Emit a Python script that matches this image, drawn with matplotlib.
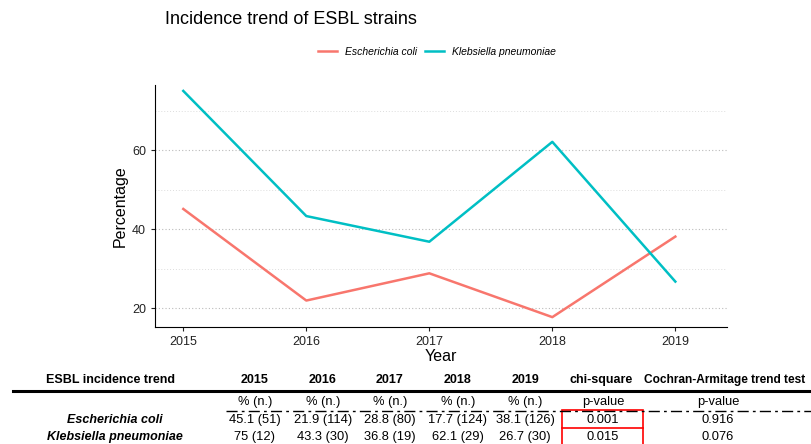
import matplotlib.pyplot as plt
from matplotlib.patches import Rectangle
from matplotlib.lines import Line2D

plt.rcParams['font.family'] = ['Liberation Sans', 'DejaVu Sans']

years = [2015, 2016, 2017, 2018, 2019]
ecoli_pct = [45.1, 21.9, 28.8, 17.7, 38.1]
kpneu_pct = [75, 43.3, 36.8, 62.1, 26.7]
ecoli_n = [51, 114, 80, 124, 126]
kpneu_n = [12, 30, 19, 29, 30]
chi_p = ['0.001', '0.015']
ca_p = ['0.916', '0.076']
species = ['Escherichia coli', 'Klebsiella pneumoniae']

col_ecoli = '#F8766D'
col_kpneu = '#00BFC4'

W, H = 811, 444
fig = plt.figure(figsize=(W / 100, H / 100), dpi=100)

def fx(px):
    return px / W

def fy(py):
    return 1 - py / H

ax = fig.add_axes([fx(155), fy(327), fx(727) - fx(155), fy(85) - fy(327)])
ax.plot(years, ecoli_pct, color=col_ecoli, lw=1.8, label='Escherichia coli')
ax.plot(years, kpneu_pct, color=col_kpneu, lw=1.8, label='Klebsiella pneumoniae')
ax.set_xlim(2014.77, 2019.42)
ax.set_ylim(15.2, 76.5)
ax.set_xticks(years)
ax.set_yticks([20, 40, 60])
ax.set_yticks([30, 50, 70], minor=True)
ax.tick_params(which='minor', length=0)
ax.tick_params(which='major', length=3, labelsize=9, colors='#222222')
ax.grid(axis='y', which='major', ls=(0, (1, 2)), color='#bbbbbb', lw=0.8)
ax.grid(axis='y', which='minor', ls=(0, (1, 2)), color='#dddddd', lw=0.7)
for s in ['top', 'right']:
    ax.spines[s].set_visible(False)
ax.set_xlabel('Year', fontsize=11.5, labelpad=1)
ax.set_ylabel('Percentage', fontsize=11.5, labelpad=3)
ax.set_axisbelow(True)

fig.text(fx(165), fy(20), 'Incidence trend of ESBL strains', fontsize=13, va='center')
fig.legend(loc='center', bbox_to_anchor=(fx(437), fy(52)), ncol=2, frameon=False,
           prop={'style': 'italic', 'size': 7.5}, handlelength=1.8, columnspacing=0.8)

# summary table under the plot
cols_x = [255, 323, 390, 458, 525]
hy, sy, r1, r2 = 380, 402, 420, 437
hs, bs = 9, 9.3
fig.text(fx(110), fy(hy), 'ESBL incidence trend', ha='center', va='center',
         fontsize=hs, fontweight='bold')
for x, yr in zip(cols_x, years):
    fig.text(fx(x), fy(hy), str(yr), ha='center', va='center', fontsize=hs,
             fontweight='bold')
    fig.text(fx(x), fy(sy), '% (n.)', ha='center', va='center', fontsize=bs)
fig.text(fx(601), fy(hy), 'chi-square', ha='center', va='center', fontsize=hs,
         fontweight='bold')
fig.text(fx(725), fy(hy), 'Cochran-Armitage trend test', ha='center', va='center',
         fontsize=8.6, fontweight='bold')
fig.text(fx(603), fy(sy), 'p-value', ha='center', va='center', fontsize=bs)
fig.text(fx(718), fy(sy), 'p-value', ha='center', va='center', fontsize=bs)

fig.add_artist(Line2D([fx(13), fx(811)], [fy(391), fy(391)], color='black', lw=2.2))
fig.add_artist(Line2D([fx(226), fx(811)], [fy(411), fy(411)], color='black', lw=1,
                      ls=(0, (8, 3, 2, 3))))

for ry, name, pct, n, cp, cap in [(r1, species[0], ecoli_pct, ecoli_n, chi_p[0], ca_p[0]),
                                   (r2, species[1], kpneu_pct, kpneu_n, chi_p[1], ca_p[1])]:
    fig.text(fx(115), fy(ry), name, ha='center', va='center', fontsize=hs,
             fontweight='bold', style='italic')
    for x, p, k in zip(cols_x, pct, n):
        fig.text(fx(x), fy(ry), f'{p:g} ({k})', ha='center', va='center', fontsize=bs)
    fig.text(fx(603), fy(ry), cp, ha='center', va='center', fontsize=bs)
    fig.text(fx(718), fy(ry), cap, ha='center', va='center', fontsize=bs)

fig.add_artist(Rectangle((fx(562), fy(446)), fx(643) - fx(562), fy(410) - fy(446),
                         fill=False, edgecolor='red', lw=1.2))
fig.add_artist(Line2D([fx(562), fx(643)], [fy(428), fy(428)], color='red', lw=1.2))

fig.savefig('out.png', dpi=100)
